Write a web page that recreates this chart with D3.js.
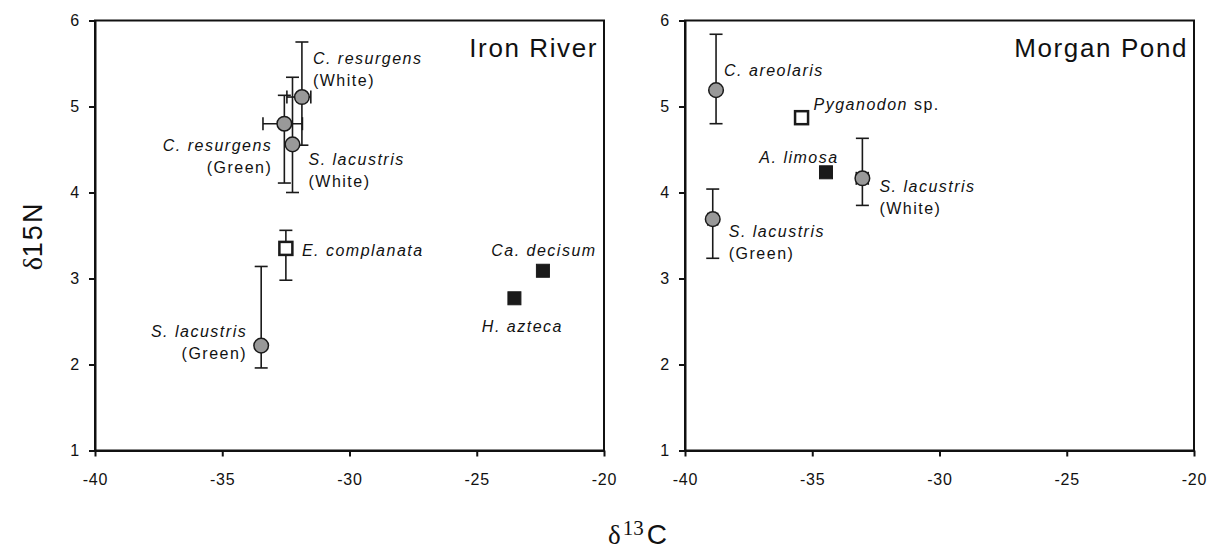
<!DOCTYPE html>
<html>
<head>
<meta charset="utf-8">
<script src="https://cdn.jsdelivr.net/npm/d3@7"></script>
<style>
  body { margin: 0; background: #fff; }
  svg { display: block; font-family: "Liberation Sans", Arial, sans-serif; }
  .axis path, .axis line { stroke: #111; stroke-width: 2; }
  .axis text { font-size: 16px; fill: #111; letter-spacing: 0.8px; }
</style>
</head>
<body>
<svg id="chart" width="1210" height="549"></svg>
<script>
var xTicks = [-40, -35, -30, -25, -20];
var yTicks = [1, 2, 3, 4, 5, 6];
var panelTitles = ['Iron River', 'Morgan Pond'];

// Iron River
var irName = ['C. resurgens', 'C. resurgens', 'S. lacustris', 'E. complanata', 'S. lacustris', 'Ca. decisum', 'H. azteca'];
var irNote = ['(White)', '(Green)', '(White)', '', '(Green)', '', ''];
var irKind = ['circle', 'circle', 'circle', 'open', 'circle', 'filled', 'filled'];
var irX = [-31.87, -32.56, -32.24, -32.5, -33.47, -22.4, -23.52];
var irY = [5.11, 4.8, 4.56, 3.35, 2.22, 3.09, 2.77];
var irYLow = [4.55, 4.11, 4.0, 2.98, 1.96, null, null];
var irYHigh = [5.75, 5.13, 5.34, 3.56, 3.14, null, null];
var irXLow = [-32.46, -33.4, null, null, null, null, null];
var irXHigh = [-31.52, -31.85, null, null, null, null, null];

// Morgan Pond
var mpName = ['C. areolaris', 'Pyganodon', 'A. limosa', 'S. lacustris', 'S. lacustris'];
var mpNote = ['', 'sp.', '', '(White)', '(Green)'];
var mpKind = ['circle', 'open', 'filled', 'circle', 'circle'];
var mpX = [-38.78, -35.42, -34.46, -33.03, -38.91];
var mpY = [5.19, 4.87, 4.235, 4.165, 3.69];
var mpYLow = [4.8, null, null, 3.85, 3.235];
var mpYHigh = [5.84, null, null, 4.63, 4.04];
var mpXLow = [null, null, null, -33.27, -39.1];
var mpXHigh = [null, null, null, -32.8, -38.72];

// label placement in px relative to the marker: [dx, dy, anchor]
var irLabelPos = [[11, -33, 'start'], [-12, 27, 'end'], [16, 21, 'start'], [16, 8, 'start'],
  [-14, -9, 'end'], [1, -15, 'middle'], [8, 34, 'middle']];
var mpLabelPos = [[8, -14, 'start'], [12, -8, 'start'], [-27, -9, 'middle'], [17, 14, 'start'], [16, 18, 'start']];

var plot = { top: 20.5, height: 430, width: 509 };
var panelLeft = [95, 685];

var svg = d3.select('#chart');

function buildRows(name, note, kind, xs, ys, yl, yh, xl, xh, pos) {
  return name.map(function(n, i) {
    return { name: n, note: note[i], kind: kind[i], x: xs[i], y: ys[i],
      yLow: yl[i], yHigh: yh[i], xLow: xl[i], xHigh: xh[i], pos: pos[i] };
  });
}

var panels = [
  buildRows(irName, irNote, irKind, irX, irY, irYLow, irYHigh, irXLow, irXHigh, irLabelPos),
  buildRows(mpName, mpNote, mpKind, mpX, mpY, mpYLow, mpYHigh, mpXLow, mpXHigh, mpLabelPos)
];

panels.forEach(function(rows, p) {
  drawPanel(rows, p);
});

function drawPanel(rows, p) {
  var x = d3.scaleLinear().domain([-40, -20]).range([0, plot.width]);
  var y = d3.scaleLinear().domain([1, 6]).range([plot.height, 0]);
  var plain = function(d) { return String(d); };

  var g = svg.append('g')
    .attr('transform', 'translate(' + panelLeft[p] + ',' + plot.top + ')');

  g.append('rect')
    .attr('width', plot.width)
    .attr('height', plot.height)
    .attr('fill', 'none')
    .attr('stroke', '#111')
    .attr('stroke-width', 2);

  g.append('g')
    .attr('class', 'axis')
    .attr('transform', 'translate(0,' + plot.height + ')')
    .call(d3.axisBottom(x).tickValues(xTicks).tickFormat(plain).tickSize(6).tickSizeOuter(0).tickPadding(17));

  g.append('g')
    .attr('class', 'axis')
    .call(d3.axisLeft(y).tickValues(yTicks).tickFormat(plain).tickSize(6).tickSizeOuter(0).tickPadding(9));

  g.append('text')
    .attr('x', plot.width - 6)
    .attr('y', 36)
    .attr('text-anchor', 'end')
    .style('font-size', '26px')
    .style('letter-spacing', '1.6px')
    .attr('fill', '#111')
    .text(panelTitles[p]);

  var bars = g.append('g')
    .attr('stroke', '#1a1a1a')
    .attr('stroke-width', 1.6)
    .attr('fill', 'none');

  var cap = 6.5;
  rows.forEach(function(d) {
    if (d.yLow != null) {
      bars.append('line').attr('x1', x(d.x)).attr('x2', x(d.x)).attr('y1', y(d.yLow)).attr('y2', y(d.yHigh));
      bars.append('line').attr('x1', x(d.x) - cap).attr('x2', x(d.x) + cap).attr('y1', y(d.yLow)).attr('y2', y(d.yLow));
      bars.append('line').attr('x1', x(d.x) - cap).attr('x2', x(d.x) + cap).attr('y1', y(d.yHigh)).attr('y2', y(d.yHigh));
    }
    if (d.xLow != null) {
      bars.append('line').attr('x1', x(d.xLow)).attr('x2', x(d.xHigh)).attr('y1', y(d.y)).attr('y2', y(d.y));
      bars.append('line').attr('x1', x(d.xLow)).attr('x2', x(d.xLow)).attr('y1', y(d.y) - cap).attr('y2', y(d.y) + cap);
      bars.append('line').attr('x1', x(d.xHigh)).attr('x2', x(d.xHigh)).attr('y1', y(d.y) - cap).attr('y2', y(d.y) + cap);
    }
  });

  var marks = g.append('g');
  marks.selectAll('circle')
    .data(rows.filter(function(d) { return d.kind === 'circle'; }))
    .enter().append('circle')
    .attr('cx', function(d) { return x(d.x); })
    .attr('cy', function(d) { return y(d.y); })
    .attr('r', 7.3)
    .attr('fill', '#999')
    .attr('stroke', '#1a1a1a')
    .attr('stroke-width', 1.5);

  marks.selectAll('rect')
    .data(rows.filter(function(d) { return d.kind !== 'circle'; }))
    .enter().append('rect')
    .attr('x', function(d) { return x(d.x) - 6.5; })
    .attr('y', function(d) { return y(d.y) - 6.5; })
    .attr('width', 13)
    .attr('height', 13)
    .attr('fill', function(d) { return d.kind === 'open' ? '#fff' : '#1a1a1a'; })
    .attr('stroke', '#1a1a1a')
    .attr('stroke-width', function(d) { return d.kind === 'open' ? 2.5 : 1; });

  var labels = g.append('g')
    .style('font-size', '16px')
    .style('letter-spacing', '1.5px')
    .attr('fill', '#111');

  rows.forEach(function(d) {
    var lx = x(d.x) + d.pos[0];
    var ly = y(d.y) + d.pos[1];
    var t = labels.append('text')
      .attr('x', lx)
      .attr('y', ly)
      .attr('text-anchor', d.pos[2]);
    t.append('tspan').style('font-style', 'italic').text(d.name);
    if (d.note && d.note.charAt(0) === '(') {
      labels.append('text')
        .attr('x', lx)
        .attr('y', ly + 22)
        .attr('text-anchor', d.pos[2])
        .text(d.note);
    } else if (d.note) {
      t.append('tspan').text(' ' + d.note);
    }
  });
}

// axis titles
var yTitle = svg.append('text')
  .attr('transform', 'translate(42,236) rotate(-90)')
  .attr('text-anchor', 'middle')
  .attr('fill', '#111');
yTitle.append('tspan').style('font-family', '"Liberation Serif", serif').style('font-size', '28px').text('δ');
yTitle.append('tspan').style('font-size', '27px').style('letter-spacing', '2px').text('15N');

var xTitle = svg.append('text')
  .attr('x', 608)
  .attr('y', 544)
  .attr('fill', '#111');
xTitle.append('tspan').style('font-family', '"Liberation Serif", serif').style('font-size', '27px').text('δ');
xTitle.append('tspan').style('font-family', '"Liberation Serif", serif').style('font-size', '21px')
  .attr('dy', -9).attr('dx', 2).text('13');
xTitle.append('tspan').style('font-size', '28px').attr('dy', 9).attr('dx', 3).text('C');
</script>
</body>
</html>
